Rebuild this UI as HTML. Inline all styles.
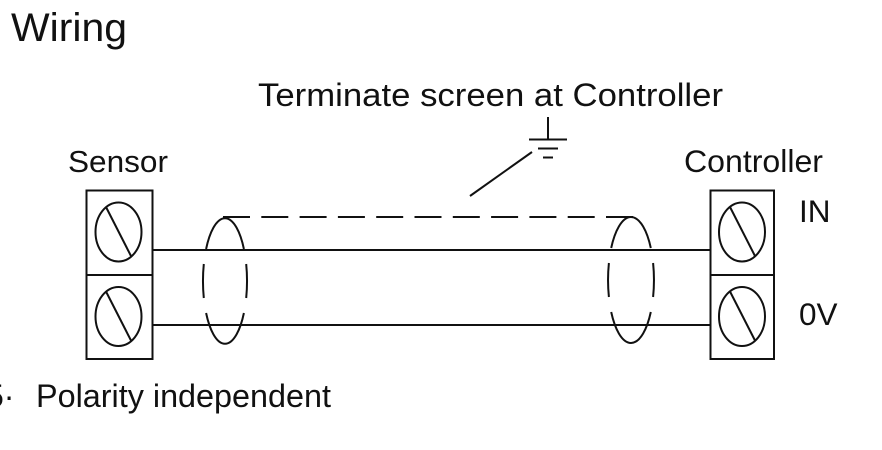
<!DOCTYPE html>
<html>
<head>
<meta charset="utf-8">
<style>
  html, body { margin: 0; padding: 0; background: #fff; }
  body { width: 882px; height: 450px; overflow: hidden; }
  svg { display: block; }
  text { font-family: "Liberation Sans", Arial, sans-serif; fill: #111; }
</style>
</head>
<body>
<svg width="882" height="450" viewBox="0 0 882 450" xmlns="http://www.w3.org/2000/svg">
  <!-- Texts -->
  <text x="11" y="41" font-size="40" textLength="116" lengthAdjust="spacingAndGlyphs">Wiring</text>
  <text x="258" y="106" font-size="32" textLength="465" lengthAdjust="spacingAndGlyphs">Terminate screen at Controller</text>
  <text x="68" y="172" font-size="31" textLength="100" lengthAdjust="spacingAndGlyphs">Sensor</text>
  <text x="684" y="172" font-size="31.5" textLength="139" lengthAdjust="spacingAndGlyphs">Controller</text>
  <text x="799" y="222" font-size="31.5">IN</text>
  <text x="799" y="325" font-size="31.5">0V</text>
  <text x="-14" y="407" font-size="32">5·</text>
  <text x="36" y="407" font-size="32" textLength="295" lengthAdjust="spacingAndGlyphs">Polarity independent</text>

  <g stroke="#111" stroke-width="2" fill="none">
    <!-- Left terminal box -->
    <rect x="86.5" y="190.5" width="66" height="168.5"/>
    <line x1="86.5" y1="275" x2="152.5" y2="275"/>
    <ellipse cx="118.5" cy="232" rx="23" ry="29.5"/>
    <line x1="106" y1="207" x2="131" y2="256"/>
    <ellipse cx="118.5" cy="316.5" rx="23" ry="29.5"/>
    <line x1="106" y1="291.5" x2="131" y2="340.5"/>

    <!-- Right terminal box -->
    <rect x="710.5" y="190.5" width="63.5" height="168.5"/>
    <line x1="710.5" y1="275" x2="774" y2="275"/>
    <ellipse cx="742" cy="232" rx="23" ry="29.5"/>
    <line x1="730" y1="207" x2="755" y2="256"/>
    <ellipse cx="742" cy="316.5" rx="23" ry="29.5"/>
    <line x1="730" y1="291.5" x2="755" y2="340.5"/>

    <!-- Wires -->
    <line x1="152.5" y1="250" x2="710.5" y2="250"/>
    <line x1="152.5" y1="325" x2="710.5" y2="325"/>

    <!-- Screen dashed line -->
    <line x1="223" y1="217" x2="634" y2="217" stroke-dasharray="27 11.3"/>

    <!-- Left screen ellipse (broken) -->
    <path d="M206.1,249 A22,63 0 0 1 243.9,249"/>
    <path d="M203.8,264 A22,63 0 0 0 203.8,298"/>
    <path d="M246.2,264 A22,63 0 0 1 246.2,298"/>
    <path d="M243.9,313 A22,63 0 0 1 206.1,313"/>

    <!-- Right screen ellipse (broken) -->
    <path d="M611.2,248 A23,63 0 0 1 650.8,248"/>
    <path d="M608.9,263 A23,63 0 0 0 608.9,297"/>
    <path d="M653.1,263 A23,63 0 0 1 653.1,297"/>
    <path d="M650.8,312 A23,63 0 0 1 611.2,312"/>

    <!-- Ground symbol -->
    <line x1="548" y1="117" x2="548" y2="139"/>
    <line x1="529" y1="139.5" x2="567" y2="139.5"/>
    <line x1="538" y1="148.5" x2="558" y2="148.5"/>
    <line x1="543" y1="157.5" x2="553" y2="157.5"/>
    <!-- Leader -->
    <line x1="470" y1="196" x2="532" y2="152"/>
  </g>
</svg>
</body>
</html>
